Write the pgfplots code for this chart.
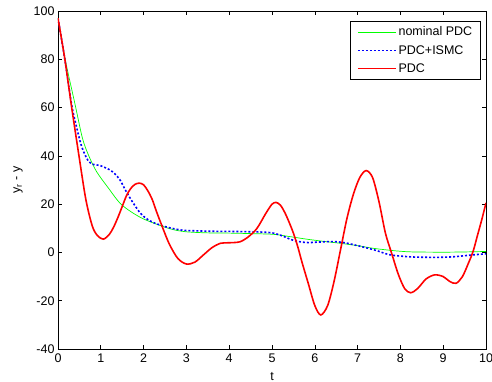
\documentclass[border=0pt]{standalone}
\usepackage{fontspec}
\setmainfont{Liberation Sans}
\usepackage{pgfplots}
\pgfplotsset{compat=1.18}
\definecolor{mgreen}{RGB}{0,255,0}
\definecolor{mblue}{RGB}{0,0,255}
\definecolor{mred}{RGB}{255,0,0}
\begin{document}
\begin{tikzpicture}
\begin{axis}[name=ax, scale only axis, width=428bp, height=338bp,
  xmin=0, xmax=10, ymin=-40, ymax=100,
  xtick={0,1,...,10}, ytick={-40,-20,...,100},
  tick align=inside, major tick length=4bp,
  axis line style={line width=0.6bp},
  every tick/.style={black, line width=0.6bp},
  /pgf/number format/assume math mode=true,
  tick label style={font=\fontsize{12.5bp}{15bp}\selectfont},
  xticklabel style={yshift=-1bp},
  label style={font=\fontsize{12.5bp}{15bp}\selectfont},
  xlabel={t}, ylabel={y\textsubscript{r} - y},
  xlabel style={yshift=-3bp},
  ylabel style={yshift=4bp},
  legend cell align=left,
  legend style={at={(axis description cs:1,1)}, anchor=north east, xshift=-5bp, yshift=-10bp,
    draw=black, line width=0.6bp, font=\fontsize{12.5bp}{15bp}\selectfont,
    inner xsep=6.5bp, inner ysep=3.5bp, row sep=4bp},
  legend image code/.code={\draw[#1] (0bp,0bp) -- (38bp,0bp);},
]
\addplot[mgreen, line width=0.7bp, smooth] coordinates {
(0,97) (0.16,80.6) (0.4,61.2) (0.57,47.4) (0.71,40.4) (0.9,33.5) (1.18,26.6)
(1.49,19.7) (1.96,14.2) (2.58,10.0) (2.97,8.6) (3.5,8.1) (4.0,8.0) (4.5,7.8)
(5.03,7.5) (5.4,6.6) (5.81,5.5) (6.2,4.6) (6.59,3.8) (7.0,2.8) (7.37,1.7)
(7.7,1.0) (7.99,0.5) (8.3,0.2) (9.0,0.1) (9.5,0.2) (10,0.4)
};
\addlegendentry{nominal PDC}
\addplot[mblue, line width=1.6bp, dash pattern=on 2bp off 2bp, smooth] coordinates {
(0,97) (0.16,80) (0.32,61) (0.46,50) (0.55,44) (0.63,40.5) (0.71,37.8) (0.79,36.6)
(0.98,36) (1.21,34.2) (1.33,32.5) (1.45,30) (1.57,26) (1.72,21.5) (1.9,16.8)
(2.03,14.5) (2.2,12.6) (2.5,10.7) (2.8,9.5) (3.0,9.1) (3.5,8.8) (4.0,8.7)
(4.4,8.6) (4.8,8.4) (5.03,8.0) (5.25,6.8) (5.5,5) (5.8,4.1) (6.1,4.3) (6.43,4.5)
(6.7,4.0) (7.0,2.8) (7.4,1.0) (7.76,-1.0) (8.2,-1.8) (8.53,-2.0) (9.0,-2.0)
(9.31,-1.7) (9.7,-1.0) (10,-0.6)
};
\addlegendentry{PDC+ISMC}
\addplot[mred, line width=1.6bp, smooth] coordinates {
(0,97) (0.16,80) (0.32,60) (0.49,40) (0.65,22) (0.8,11) (0.92,7) (1.06,5.5)
(1.2,7.5) (1.3,10.5) (1.4,14.5) (1.5,19) (1.6,23.5) (1.7,26.5) (1.8,28.2)
(1.9,28.7) (2.0,28) (2.1,25.5) (2.2,22) (2.3,17) (2.42,11.4) (2.6,3.5)
(2.8,-2.5) (3.0,-4.8) (3.2,-4) (3.4,-1) (3.6,2) (3.8,3.8) (4.0,4) (4.25,4.4)
(4.45,6.5) (4.65,10) (4.85,16) (5.0,20) (5.1,20.7) (5.2,19.5) (5.3,16.5)
(5.4,12.5) (5.5,8) (5.6,2.5) (5.7,-4) (5.85,-13) (6.0,-22) (6.14,-25.9)
(6.3,-22) (6.45,-12)
(6.6,1) (6.75,14) (6.9,24) (7.05,31) (7.2,33.9) (7.35,31) (7.5,21) (7.65,8)
(7.8,-0.6) (7.95,-9) (8.1,-15) (8.24,-16.7) (8.4,-15) (8.6,-11) (8.8,-9.3)
(9.0,-10) (9.15,-12) (9.3,-12.8) (9.45,-10) (9.6,-4) (9.7,0.5) (9.8,7)
(9.9,13.5) (10,20.5)
};
\addlegendentry{PDC}
\end{axis}
\pgfresetboundingbox
\path[use as bounding box] ([shift={(-58bp,-33bp)}]ax.south west) rectangle ([shift={(6bp,11bp)}]ax.north east);
\end{tikzpicture}
\end{document}
